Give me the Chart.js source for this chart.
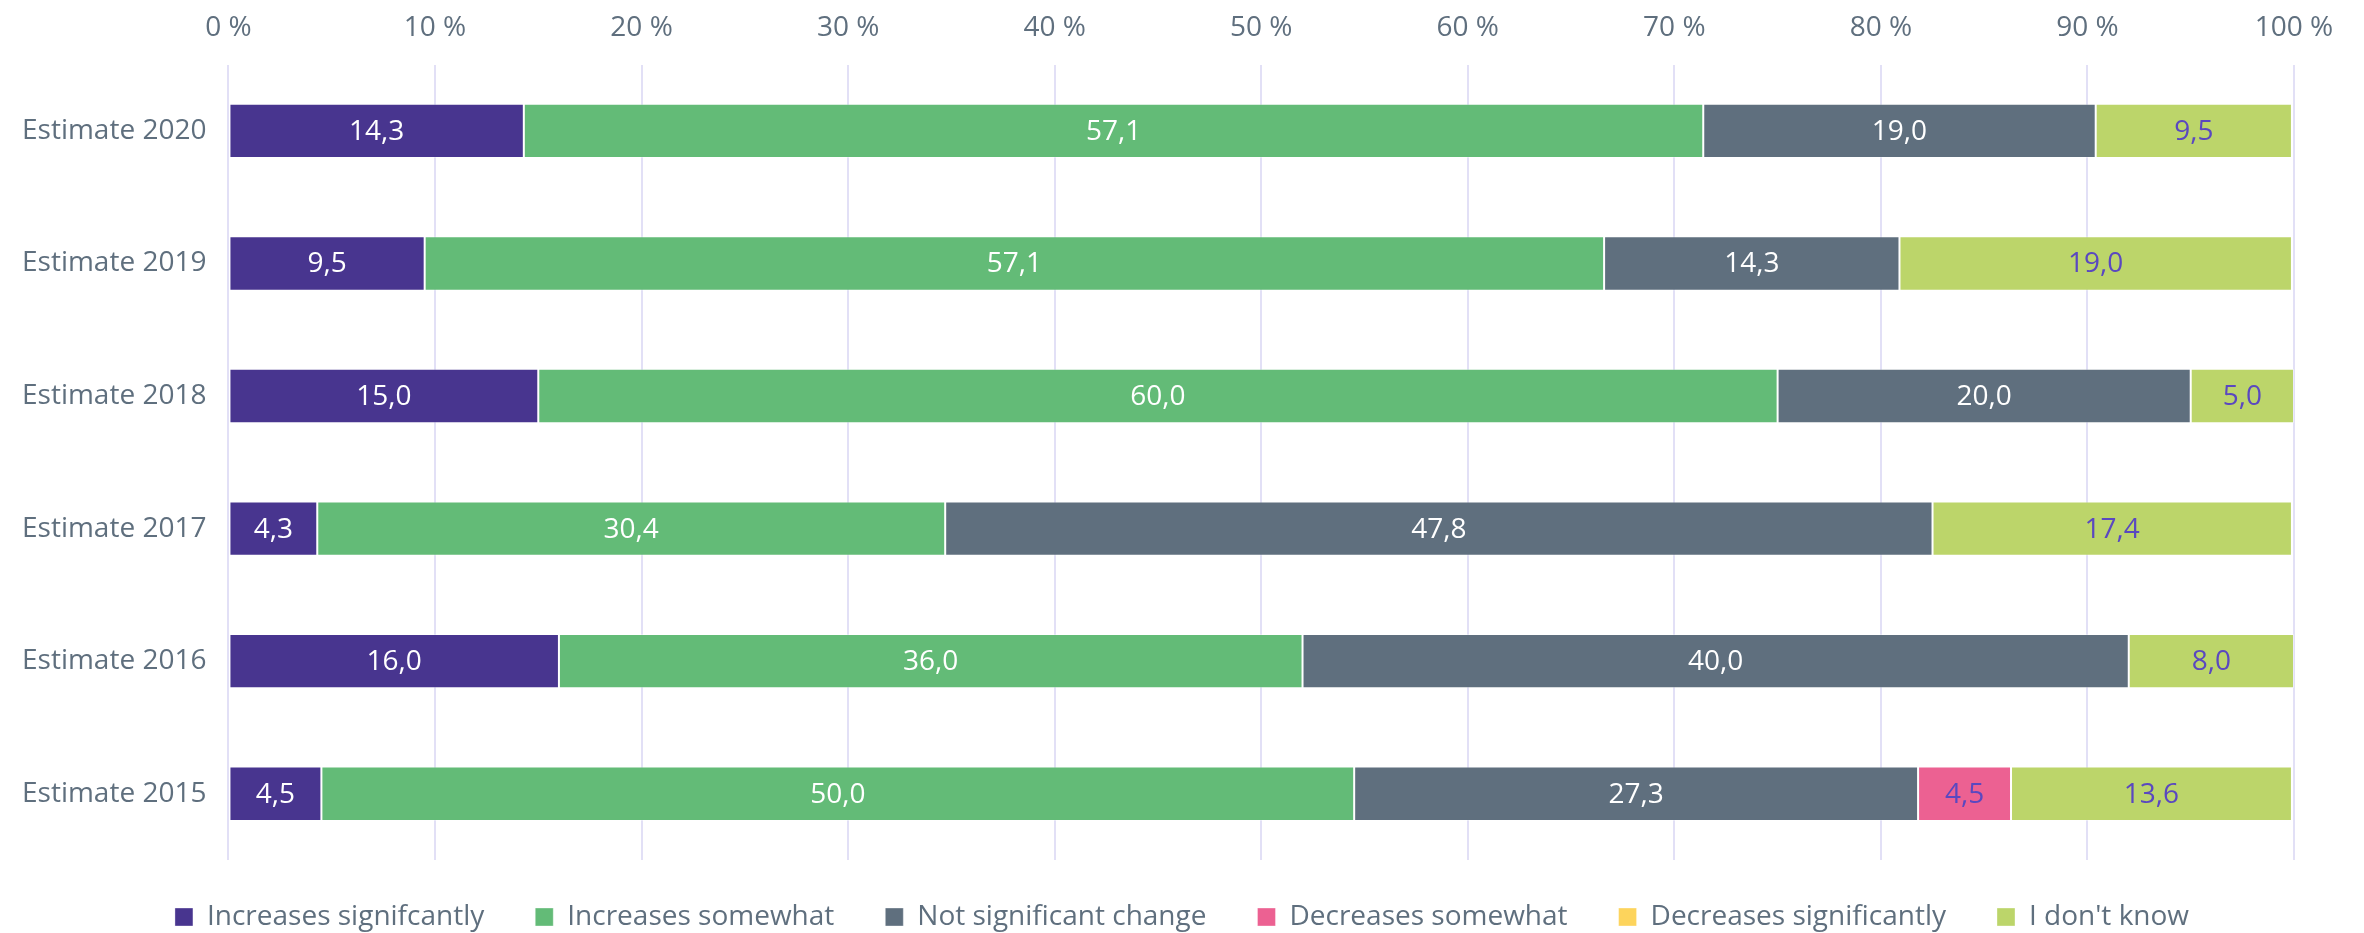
<!DOCTYPE html>
<html>
<head>
<meta charset="utf-8">
<script src="https://cdn.jsdelivr.net/npm/chart.js@4"></script>
<style>
  body { margin: 0; background: #fff; }
  #wrap { width: 2364px; height: 933px; position: relative; }
</style>
</head>
<body>
<div id="wrap"><canvas id="chart"></canvas></div>
<script>
const categories = ['Estimate 2020', 'Estimate 2019', 'Estimate 2018', 'Estimate 2017', 'Estimate 2016', 'Estimate 2015']

const series_names = ['Increases signifcantly', 'Increases somewhat', 'Not significant change', 'Decreases somewhat', 'Decreases significantly', "I don't know"]
const series_colors = ['#48358f', '#63bb77', '#5f6f7e', '#ec6192', '#fdd45c', '#bcd56a']
const label_colors = ['#ffffff', '#ffffff', '#ffffff', '#5a48c0', '#5a48c0', '#5a48c0']

const increases_significantly = [14.3, 9.5, 15.0, 4.3, 16.0, 4.5]
const increases_somewhat = [57.1, 57.1, 60.0, 30.4, 36.0, 50.0]
const not_significant = [19.0, 14.3, 20.0, 47.8, 40.0, 27.3]
const decreases_somewhat = [null, null, null, null, null, 4.5]
const decreases_significantly = [null, null, null, null, null, null]
const dont_know = [9.5, 19.0, 5.0, 17.4, 8.0, 13.6]

const x_ticks = [0, 10, 20, 30, 40, 50, 60, 70, 80, 90, 100]

const textColor = '#5f6f7e'
const fontFamily = '"Open Sans", "Noto Sans", sans-serif'

const all_values = [increases_significantly, increases_somewhat, not_significant, decreases_somewhat, decreases_significantly, dont_know]

// draws the value in the middle of each bar segment
const barLabels = {
    id: 'barLabels',
    afterDatasetsDraw(chart) {
        const ctx = chart.ctx
        ctx.save()
        ctx.font = '28px ' + fontFamily
        ctx.textAlign = 'center'
        ctx.textBaseline = 'middle'
        chart.data.datasets.forEach((ds, i) => {
            const meta = chart.getDatasetMeta(i)
            meta.data.forEach((bar, j) => {
                const v = ds.data[j]
                if (v === null || v === 0) return
                const p = bar.getCenterPoint()
                ctx.fillStyle = label_colors[i]
                ctx.fillText(v.toFixed(1).replace('.', ','), p.x, p.y + 1)
            })
        })
        ctx.restore()
    }
}

// pull the legend a bit closer to the plot without changing item spacing
const legendNudge = {
    id: 'legendNudge',
    afterLayout(chart) {
        const lg = chart.legend
        if (!lg) return
        lg.top -= 8
        lg.bottom -= 8
    }
}

const ctx = document.getElementById('chart').getContext('2d')

new Chart(ctx, {
    type: 'bar',
    data: {
        labels: categories,
        datasets: all_values.map((vals, i) => ({
            label: series_names[i],
            data: vals,
            backgroundColor: series_colors[i],
            borderColor: 'rgba(255,255,255,0.35)',
            borderWidth: 1,
            borderSkipped: false,
            barPercentage: 0.41,
            categoryPercentage: 1
        }))
    },
    options: {
        indexAxis: 'y',
        responsive: true,
        maintainAspectRatio: false,
        animation: false,
        layout: {
            padding: { top: -9, right: 0, left: 0, bottom: -16 }
        },
        scales: {
            x: {
                position: 'top',
                stacked: true,
                min: 0,
                max: 100,
                afterBuildTicks: axis => { axis.ticks = x_ticks.map(v => ({ value: v })) },
                afterFit: axis => { axis.paddingRight = 70 },
                ticks: {
                    color: textColor,
                    font: { size: 28, family: fontFamily },
                    padding: 20,
                    callback: v => v + ' %'
                },
                grid: { color: '#e2e0f6', lineWidth: 2, drawTicks: false },
                border: { display: false }
            },
            y: {
                stacked: true,
                ticks: {
                    color: textColor,
                    font: { size: 28, family: fontFamily },
                    padding: 22
                },
                grid: { display: false, drawTicks: false },
                border: { display: false }
            }
        },
        plugins: {
            legend: {
                position: 'bottom',
                labels: {
                    color: textColor,
                    font: { size: 28, family: fontFamily },
                    boxWidth: 18,
                    boxHeight: 18,
                    padding: 51
                }
            },
            tooltip: { enabled: false }
        }
    },
    plugins: [barLabels, legendNudge]
})
</script>
</body>
</html>
